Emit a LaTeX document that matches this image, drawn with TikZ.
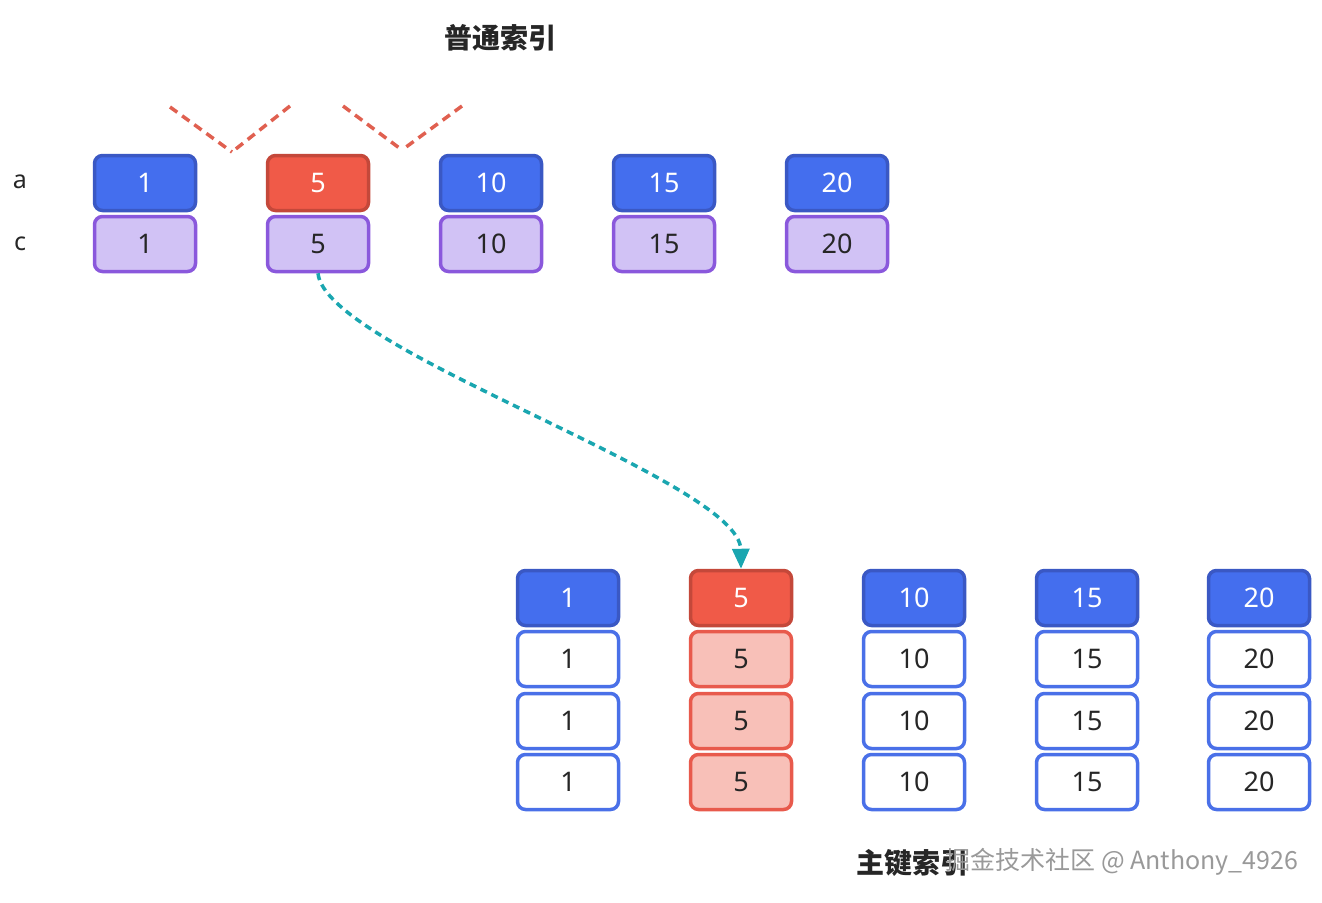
\documentclass[tikz,border=0pt]{standalone}
\usepackage{fontspec}
\setmainfont{Noto Sans}
\newfontfamily\cjk{Noto Sans CJK SC}
\usetikzlibrary{arrows.meta}
\definecolor{bfill}{HTML}{446EEE}
\definecolor{bdraw}{HTML}{3A58C4}
\definecolor{rfill}{HTML}{F05A48}
\definecolor{rdraw}{HTML}{C4483A}
\definecolor{pfill}{HTML}{D1C2F5}
\definecolor{pdraw}{HTML}{8A58DC}
\definecolor{lrfill}{HTML}{F8C0B8}
\definecolor{lrdraw}{HTML}{E85A4C}
\definecolor{wdraw}{HTML}{4A70E8}
\definecolor{teal}{HTML}{1AA6B0}
\definecolor{dred}{HTML}{E06050}
\tikzset{
  cell/.style={rounded corners=8pt, line width=3.5pt, minimum width=101pt, minimum height=55pt, inner sep=0pt, font=\fontsize{27}{32}\selectfont},
  bluecell/.style={cell, fill=bfill, draw=bdraw, text=white},
  redcell/.style={cell, fill=rfill, draw=rdraw, text=white},
  purplecell/.style={cell, fill=pfill, draw=pdraw, text=black!85},
  lrcell/.style={cell, fill=lrfill, draw=lrdraw, text=black!85},
  whitecell/.style={cell, fill=white, draw=wdraw, text=black!85},
  rowlabel/.style={font=\fontsize{25}{30}\selectfont, text=black!85},
  title/.style={font=\cjk\bfseries\fontsize{28}{32}\selectfont, text=black!85},
  reddash/.style={draw=dred, line width=3.5pt, dash pattern=on 9pt off 6pt},
}
\begin{document}
\begin{tikzpicture}[x=1pt,y=-1pt]
\useasboundingbox (0,0) rectangle (1322,902);
\node[title] (t1) at (500,38) {普通索引};
\node[rowlabel] (la) at (20,182) {a};
\node[rowlabel] (lc) at (20,244) {c};
% top rows
\foreach \v/\x [count=\i] in {1/145,5/318,10/491,15/664,20/837}{
  \ifnum\i=2
    \node[redcell] (a\i) at (\x,183) {\v};
  \else
    \node[bluecell] (a\i) at (\x,183) {\v};
  \fi
  \node[purplecell] (c\i) at (\x,244) {\v};
}
% dashed red V marks
\coordinate (v1a) at (170,107);
\coordinate (v1b) at (232,152);
\coordinate (v1c) at (290,106);
\coordinate (v2a) at (343,106);
\coordinate (v2b) at (402,150);
\coordinate (v2c) at (462,106);
\draw[reddash] (v1a) -- (v1b);
\draw[reddash] (v1c) -- (v1b);
\draw[reddash] (v2a) -- (v2b);
\draw[reddash] (v2c) -- (v2b);
% bottom table
\foreach \v/\x [count=\i] in {1/568,5/741,10/914,15/1087,20/1259}{
  \ifnum\i=2
    \node[redcell] (h\i) at (\x,598) {\v};
    \node[lrcell] (r\i a) at (\x,659) {\v};
    \node[lrcell] (r\i b) at (\x,721) {\v};
    \node[lrcell] (r\i c) at (\x,782) {\v};
  \else
    \node[bluecell] (h\i) at (\x,598) {\v};
    \node[whitecell] (r\i a) at (\x,659) {\v};
    \node[whitecell] (r\i b) at (\x,721) {\v};
    \node[whitecell] (r\i c) at (\x,782) {\v};
  \fi
}
% connector
\draw[teal, line width=3.5pt, dash pattern=on 7pt off 5pt, -{Triangle[length=20pt,width=17pt]}]
  (c2.south) .. controls (325,350) and (740,480) .. (h2.north);
\node[title] (t2) at (912,863) {主键索引};
\node[font=\cjk\fontsize{25}{30}\selectfont, text=black!40, anchor=west] (wm) at (942,862) {掘金技术社区 @ Anthony\_4926};
\end{tikzpicture}
\end{document}
